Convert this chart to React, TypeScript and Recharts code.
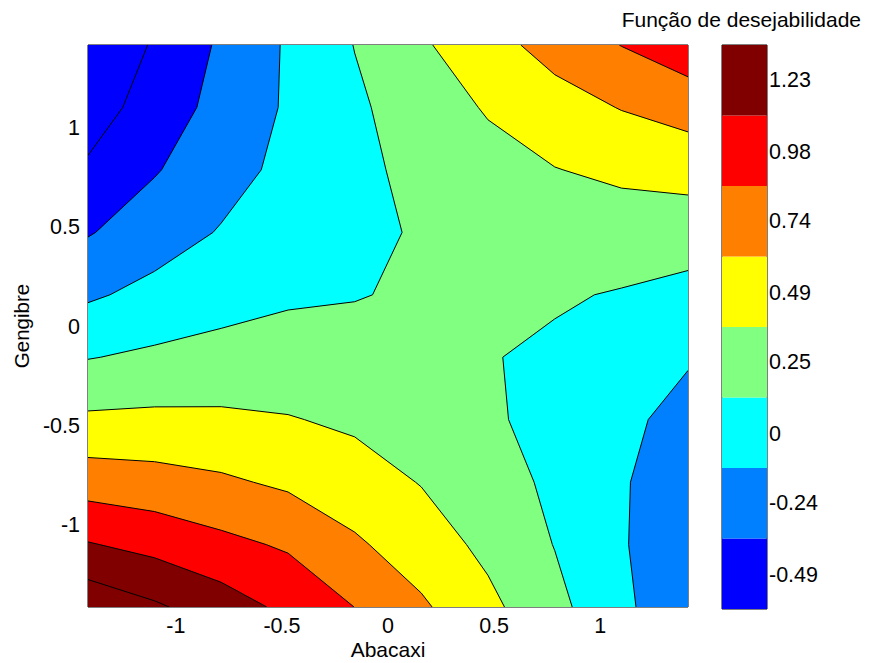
import React from "react";
import { ScatterChart, Scatter, XAxis, YAxis } from "recharts";

// grid nodes of the response surface (Abacaxi = x, Gengibre = y)
const gridX = [-1.414, -1.1, -0.786, -0.471, -0.157, 0.157, 0.471, 0.786, 1.1, 1.414];
const gridY = [-1.414, -1.1, -0.786, -0.471, -0.157, 0.157, 0.471, 0.786, 1.1, 1.414];

// desirability, one row per Gengibre value (bottom to top)
const zAtYm1414 = [1.53, 1.385, 1.225, 1.049, 0.858, 0.651, 0.429, 0.191, -0.061, -0.33];
const zAtYm1100 = [1.121, 1.03, 0.922, 0.83, 0.65, 0.49, 0.313, 0.118, -0.095, -0.325];
const zAtYm0786 = [0.748, 0.709, 0.652, 0.575, 0.475, 0.36, 0.23, 0.078, -0.094, -0.285];
const zAtYm0471 = [0.411, 0.422, 0.413, 0.383, 0.33, 0.261, 0.15, 0.069, -0.06, -0.209];
const zAtYm0157 = [0.115, 0.167, 0.205, 0.221, 0.213, 0.19, 0.135, 0.09, 0.007, -0.096];
const zAtY0157 = [-0.154, -0.051, 0.032, 0.094, 0.114, 0.155, 0.163, 0.147, 0.11, 0.053];
const zAtY0471 = [-0.382, -0.234, -0.104, 0.003, 0.088, 0.14, 0.21, 0.24, 0.249, 0.238];
const zAtY0786 = [-0.574, -0.383, -0.211, -0.059, 0.071, 0.186, 0.285, 0.363, 0.42, 0.459];
const zAtY1100 = [-0.73, -0.5, -0.287, -0.091, 0.085, 0.246, 0.391, 0.517, 0.625, 0.716];
const zAtY1414 = [-0.85, -0.582, -0.329, -0.092, 0.131, 0.337, 0.529, 0.704, 0.865, 1.01];

const axisTicks = [-1, -0.5, 0, 0.5, 1];
const colorbarTicks = [-0.49, -0.24, 0, 0.25, 0.49, 0.74, 0.98, 1.23];
const contourLevels = [-0.61, -0.365, -0.12, 0.125, 0.37, 0.615, 0.86, 1.105, 1.35];
const bandColors = ["#0000FF", "#0080FF", "#00FFFF", "#80FF80", "#FFFF00", "#FF8000", "#FF0000", "#800000"];

const zRows = [zAtYm1414, zAtYm1100, zAtYm0786, zAtYm0471, zAtYm0157, zAtY0157, zAtY0471, zAtY0786, zAtY1100, zAtY1414];

const FONT = "'Liberation Sans', Arial, Helvetica, sans-serif";
const LIM = 1.414;

type Pt = { x: number; y: number };
type Shape = { pts: Pt[]; sizes: number[] };

// clip every grid cell to z >= level; also collect the iso-line pieces
function contourCells(level: number) {
  const fill: Shape = { pts: [], sizes: [] };
  const line: Shape = { pts: [], sizes: [] };
  for (let j = 0; j < gridY.length - 1; j++) {
    for (let i = 0; i < gridX.length - 1; i++) {
      const c = [
        [i, j],
        [i + 1, j],
        [i + 1, j + 1],
        [i, j + 1],
      ].map(([a, b]) => ({ x: gridX[a], y: gridY[b], z: zRows[b][a] }));
      const out: { p: Pt; cross: boolean }[] = [];
      for (let k = 0; k < 4; k++) {
        const p = c[k];
        const q = c[(k + 1) % 4];
        const pin = p.z >= level;
        const qin = q.z >= level;
        if (pin) out.push({ p: { x: p.x, y: p.y }, cross: false });
        if (pin !== qin) {
          const t = (level - p.z) / (q.z - p.z);
          out.push({ p: { x: p.x + t * (q.x - p.x), y: p.y + t * (q.y - p.y) }, cross: true });
        }
      }
      if (out.length >= 3) {
        out.forEach((o) => fill.pts.push(o.p));
        fill.sizes.push(out.length);
        for (let k = 0; k < out.length; k++) {
          const a = out[k];
          const b = out[(k + 1) % out.length];
          if (a.cross && b.cross) {
            line.pts.push(a.p, b.p);
            line.sizes.push(2);
          }
        }
      }
    }
  }
  return { fill, line };
}

const fillLayers = bandColors.map((color, k) => ({
  color,
  shape: contourCells(k === 0 ? -Infinity : contourLevels[k]).fill,
}));
const lineLayers = contourLevels.map((lv) => contourCells(lv).line);

const colorbarBands: Shape[] = bandColors.map((_, k) => ({
  pts: [
    { x: 0, y: contourLevels[k] },
    { x: 1, y: contourLevels[k] },
    { x: 1, y: contourLevels[k + 1] },
    { x: 0, y: contourLevels[k + 1] },
  ],
  sizes: [4],
}));

function pathOf(points: { x: number; y: number }[], sizes: number[], close: boolean) {
  let d = "";
  let k = 0;
  for (const n of sizes) {
    for (let i = 0; i < n; i++) {
      const p = points[k + i];
      if (!p) continue;
      d += (i === 0 ? "M" : "L") + p.x.toFixed(2) + "," + p.y.toFixed(2);
    }
    if (close) d += "Z";
    k += n;
  }
  return d;
}

const noDot = () => <g />;
const tickStyle = { fill: "#000", fontSize: 21.5, fontFamily: FONT };

function ContourPlot() {
  return (
    <ScatterChart width={700} height={655} margin={{ top: 36, right: 19, bottom: 3, left: 0 }}>
      {fillLayers.map((layer, k) => (
        <Scatter
          key={"f" + k}
          xAxisId="b"
          yAxisId="l"
          data={layer.shape.pts}
          isAnimationActive={false}
          shape={noDot}
          line={(p: any) => (
            <path d={pathOf(p.points, layer.shape.sizes, true)} fill={layer.color} stroke="none" />
          )}
        />
      ))}
      {lineLayers.map((shape, k) => (
        <Scatter
          key={"l" + k}
          xAxisId="b"
          yAxisId="l"
          data={shape.pts}
          isAnimationActive={false}
          shape={noDot}
          line={(p: any) => (
            <path d={pathOf(p.points, shape.sizes, false)} fill="none" stroke="#000" strokeWidth={1} />
          )}
        />
      ))}
      <XAxis
        xAxisId="b"
        type="number"
        dataKey="x"
        domain={[-LIM, LIM]}
        allowDataOverflow
        ticks={axisTicks}
        orientation="bottom"
        height={53}
        stroke="#000"
        tickSize={-7}
        tickMargin={18}
        tick={tickStyle}
        label={{ value: "Abacaxi", position: "insideBottom", offset: 3, fill: "#000", fontSize: 21, fontFamily: FONT }}
      />
      <XAxis
        xAxisId="t"
        type="number"
        dataKey="x"
        domain={[-LIM, LIM]}
        allowDataOverflow
        ticks={axisTicks}
        orientation="top"
        height={1}
        stroke="#000"
        tickSize={-7}
        tick={false}
      />
      <YAxis
        yAxisId="l"
        type="number"
        dataKey="y"
        domain={[-LIM, LIM]}
        allowDataOverflow
        ticks={axisTicks}
        width={80}
        stroke="#000"
        tickSize={-7}
        tickMargin={15}
        tick={tickStyle}
        label={{
          value: "Gengibre",
          angle: -90,
          position: "insideLeft",
          offset: 14,
          fill: "#000",
          fontSize: 20.5,
          fontFamily: FONT,
          style: { textAnchor: "middle" },
        }}
      />
      <YAxis
        yAxisId="r"
        type="number"
        dataKey="y"
        domain={[-LIM, LIM]}
        allowDataOverflow
        ticks={axisTicks}
        orientation="right"
        width={1}
        stroke="#000"
        tickSize={-7}
        tick={false}
      />
    </ScatterChart>
  );
}

function Colorbar() {
  const lo = contourLevels[0];
  const hi = contourLevels[contourLevels.length - 1];
  return (
    <ScatterChart width={153} height={655} margin={{ top: 36, right: 14, bottom: 53, left: 13 }}>
      {colorbarBands.map((band, k) => (
        <Scatter
          key={"c" + k}
          xAxisId="b"
          yAxisId="l"
          data={band.pts}
          isAnimationActive={false}
          shape={noDot}
          line={(p: any) => <path d={pathOf(p.points, band.sizes, true)} fill={bandColors[k]} stroke="none" />}
        />
      ))}
      <XAxis xAxisId="b" type="number" dataKey="x" domain={[0, 1]} allowDataOverflow orientation="bottom" height={1} stroke="#000" tick={false} tickLine={false} />
      <XAxis xAxisId="t" type="number" dataKey="x" domain={[0, 1]} allowDataOverflow orientation="top" height={1} stroke="#000" tick={false} tickLine={false} />
      <YAxis
        yAxisId="l"
        type="number"
        dataKey="y"
        domain={[lo, hi]}
        allowDataOverflow
        ticks={colorbarTicks}
        width={1}
        stroke="#000"
        tickSize={-5}
        tick={false}
      />
      <YAxis
        yAxisId="r"
        type="number"
        dataKey="y"
        domain={[lo, hi]}
        allowDataOverflow
        ticks={colorbarTicks}
        orientation="right"
        width={80}
        stroke="#000"
        tickSize={-5}
        tickMargin={7}
        tick={tickStyle}
      />
    </ScatterChart>
  );
}

export default function App() {
  return (
    <div
      style={{
        position: "relative",
        width: 853,
        height: 655,
        overflow: "hidden",
        background: "#fff",
        fontFamily: FONT,
      }}
    >
      <div style={{ position: "absolute", left: 0, top: 0 }}>
        <ContourPlot />
      </div>
      <div style={{ position: "absolute", left: 700, top: 0 }}>
        <Colorbar />
      </div>
      <div
        style={{
          position: "absolute",
          right: 0,
          top: 0,
          fontSize: 21,
          lineHeight: "24px",
          whiteSpace: "nowrap",
          color: "#000",
        }}
      >
        Função de desejabilidade
      </div>
    </div>
  );
}
